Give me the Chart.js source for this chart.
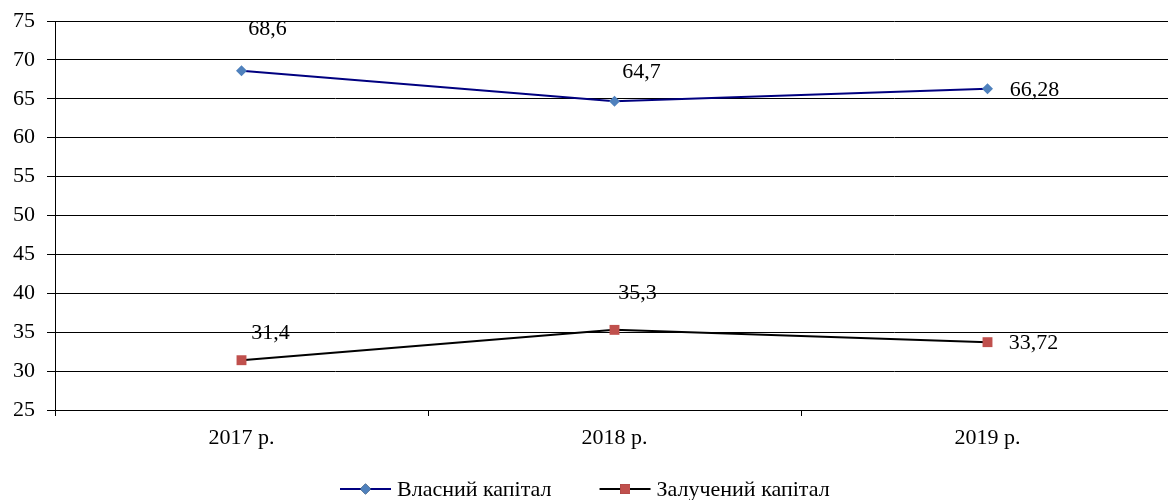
<!DOCTYPE html>
<html>
<head>
<meta charset="utf-8">
<script src="https://cdn.jsdelivr.net/npm/chart.js@4/dist/chart.umd.min.js"></script>
<style>
  html, body { margin: 0; padding: 0; background: #fff; overflow: hidden; }
  #wrap { width: 1168px; height: 500px; overflow: hidden; }
  #wrap canvas { display: block; }
</style>
</head>
<body>
<!-- the plot runs on past the right edge of the frame, so the canvas is a bit wider than the frame -->
<div id="wrap"><canvas id="c" width="1181" height="500"></canvas></div>
<script>
// Capital structure, % of total
const years = ['2017 р.', '2018 р.', '2019 р.'];
const ownCapital = [68.6, 64.7, 66.28];
const borrowedCapital = [31.4, 35.3, 33.72];
const seriesNames = ['Власний капітал', 'Залучений капітал'];
const yMin = 25, yMax = 75, yStep = 5;

const FONT = "'Liberation Serif', 'Times New Roman', serif";
const FONT_SIZE = 22;
const FRAME_W = 1168;

// Where each value label sits relative to its point (px)
const labelOffsets = [
  [[26, -42], [27, -29], [47, 1]],
  [[29, -27], [23, -37], [46, 1]]
];

const fmt = v => String(v).replace('.', ',');

// Draws the value labels next to every point
const valueLabels = {
  id: 'valueLabels',
  afterDatasetsDraw(chart) {
    const ctx = chart.ctx;
    ctx.save();
    ctx.font = FONT_SIZE + 'px ' + FONT;
    ctx.fillStyle = '#000';
    ctx.textAlign = 'center';
    ctx.textBaseline = 'middle';
    chart.data.datasets.forEach((ds, di) => {
      const meta = chart.getDatasetMeta(di);
      meta.data.forEach((pt, i) => {
        const [dx, dy] = labelOffsets[di][i];
        ctx.fillText(fmt(ds.data[i]), pt.x + dx, pt.y + dy);
      });
    });
    ctx.restore();
  }
};

// Legend below the plot: line sample with the series marker, then the name
const lineLegend = {
  id: 'lineLegend',
  afterDraw(chart) {
    const ctx = chart.ctx;
    ctx.save();
    ctx.font = FONT_SIZE + 'px ' + FONT;
    ctx.textBaseline = 'middle';
    ctx.textAlign = 'left';
    const sample = 51, gapText = 6, gapItem = 48;
    const widths = chart.data.datasets.map(ds => sample + gapText + ctx.measureText(ds.label).width);
    const total = widths.reduce((a, b) => a + b, 0) + gapItem * (widths.length - 1);
    let x = Math.round((FRAME_W - total) / 2) + 1;
    const y = 489;
    chart.data.datasets.forEach((ds, di) => {
      ctx.strokeStyle = ds.borderColor;
      ctx.lineWidth = 2;
      ctx.beginPath();
      ctx.moveTo(x, y);
      ctx.lineTo(x + sample, y);
      ctx.stroke();
      Chart.helpers.drawPoint(ctx, {
        pointStyle: ds.pointStyle,
        radius: ds.pointRadius,
        borderWidth: 0,
        rotation: 0
      }, x + sample / 2, y);
      ctx.fillStyle = ds.pointBackgroundColor;
      ctx.fill();
      ctx.fillStyle = '#000';
      ctx.fillText(ds.label, x + sample + gapText, y + 1);
      x += widths[di] + gapItem;
    });
    ctx.restore();
  }
};

new Chart(document.getElementById('c'), {
  type: 'line',
  data: {
    labels: years,
    datasets: [
      {
        label: seriesNames[0],
        data: ownCapital,
        borderColor: '#000080',
        borderWidth: 2,
        pointStyle: 'rectRot',
        pointRadius: 5.5,
        pointHoverRadius: 5.5,
        pointBackgroundColor: '#4F81BD',
        pointBorderColor: '#4F81BD',
        pointBorderWidth: 0,
        tension: 0
      },
      {
        label: seriesNames[1],
        data: borrowedCapital,
        borderColor: '#000000',
        borderWidth: 2,
        pointStyle: 'rect',
        pointRadius: 7,
        pointHoverRadius: 7,
        pointBackgroundColor: '#C0504D',
        pointBorderColor: '#C0504D',
        pointBorderWidth: 0,
        tension: 0
      }
    ]
  },
  options: {
    responsive: false,
    animation: false,
    events: [],
    layout: { padding: { top: 21, right: 0, left: 0, bottom: 50 } },
    plugins: {
      legend: { display: false },
      tooltip: { enabled: false }
    },
    scales: {
      x: {
        type: 'category',
        offset: true,
        grid: { offset: true, drawOnChartArea: false, drawTicks: true, tickLength: 6, color: '#000', lineWidth: 1 },
        border: { color: '#000', width: 1 },
        ticks: { color: '#000', font: { family: FONT, size: FONT_SIZE }, padding: 9, maxRotation: 0 },
        afterFit(s) { s.height = 40; s.paddingLeft = 0; s.paddingRight = 0; }
      },
      y: {
        min: yMin,
        max: yMax,
        grid: { color: '#000', lineWidth: 1, tickLength: 8, drawTicks: true },
        border: { color: '#000', width: 1 },
        ticks: { stepSize: yStep, color: '#000', font: { family: FONT, size: FONT_SIZE }, padding: 12 },
        afterFit(s) { s.width = 55; s.paddingTop = 0; s.paddingBottom = 0; }
      }
    }
  },
  plugins: [valueLabels, lineLegend]
});
</script>
</body>
</html>
